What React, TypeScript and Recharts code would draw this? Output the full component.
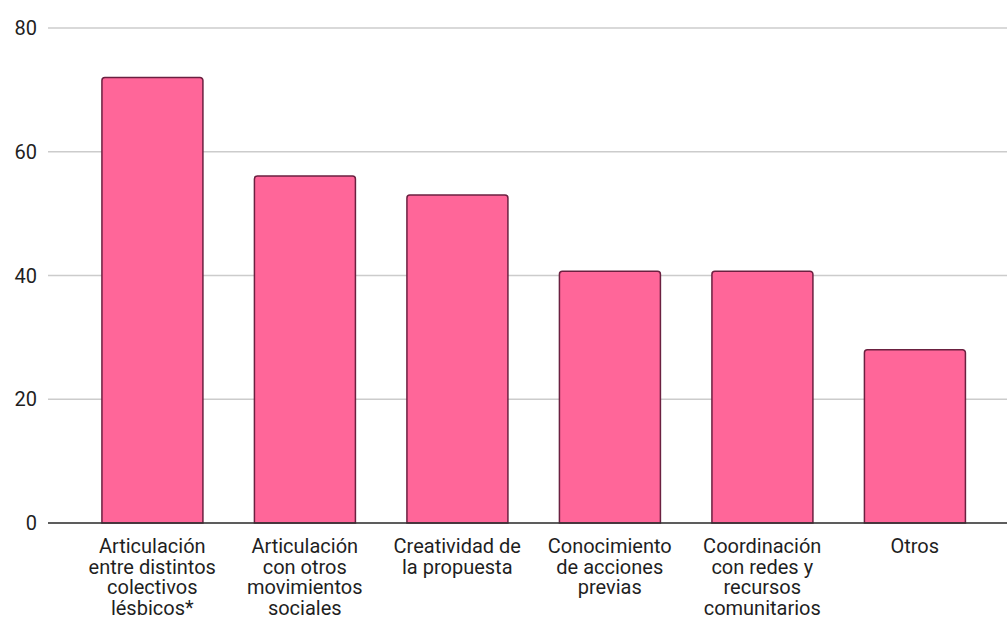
import { Bar, BarChart, CartesianGrid, XAxis, YAxis } from "recharts";

// categories as shown under each bar, line breaks kept from the picture
const categories = [
  "Articulación\nentre distintos\ncolectivos\nlésbicos*",
  "Articulación\ncon otros\nmovimientos\nsociales",
  "Creatividad de\nla propuesta",
  "Conocimiento\nde acciones\nprevias",
  "Coordinación\ncon redes y\nrecursos\ncomunitarios",
  "Otros",
];
const values = [72, 56.1, 53, 40.7, 40.7, 28];
const yTicks = [0, 20, 40, 60, 80];

const data = categories.map((name, i) => ({ name, value: values[i] }));

const FONT = "Roboto, 'Noto Sans', sans-serif";

// multi-line category label
function CategoryTick({ x, y, payload }: any) {
  const lines = String(payload.value).split("\n");
  return (
    <text
      x={x}
      y={y}
      textAnchor="middle"
      fill="#1f1f1f"
      fontSize={20}
      fontFamily={FONT}
    >
      {lines.map((line, i) => (
        <tspan key={i} x={x} dy={i === 0 ? 22 : 20.7}>
          {line}
        </tspan>
      ))}
    </text>
  );
}

export default function App() {
  return (
    <div style={{ position: "absolute", left: 0, top: 0, background: "#fff" }}>
      <BarChart
        width={1007}
        height={619}
        data={data}
        margin={{ top: 28, right: 0, bottom: 0, left: 0 }}
        barCategoryGap="17%"
      >
        <CartesianGrid vertical={false} stroke="#cccccc" strokeWidth={1.5} />
        <XAxis
          dataKey="name"
          interval={0}
          padding={{ left: 28, right: 16 }}
          tickLine={false}
          axisLine={{ stroke: "#333", strokeWidth: 1.5 }}
          tick={<CategoryTick />}
          height={96}
        />
        <YAxis
          width={48}
          domain={[0, 80]}
          ticks={yTicks}
          axisLine={false}
          tickLine={false}
          tickMargin={5}
          tick={{ fill: "#1f1f1f", fontSize: 20, fontFamily: FONT }}
        />
        <Bar
          dataKey="value"
          fill="#ff6699"
          stroke="#6b2040"
          strokeWidth={1.5}
          radius={[3, 3, 0, 0]}
          isAnimationActive={false}
        />
      </BarChart>
    </div>
  );
}
